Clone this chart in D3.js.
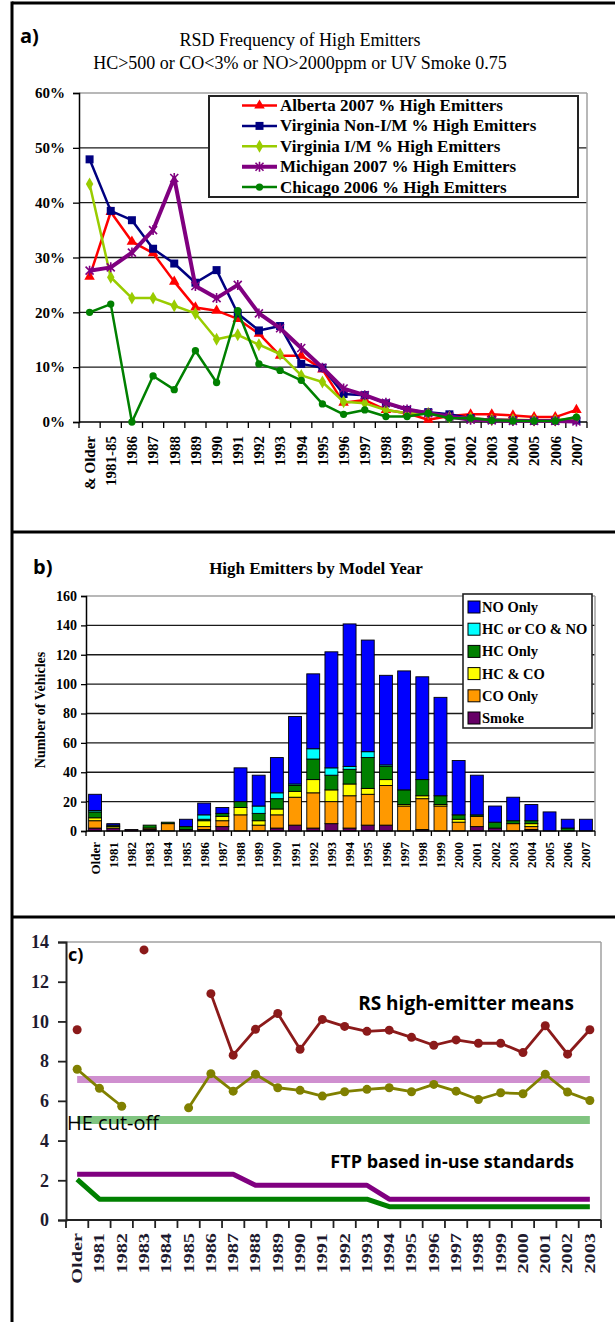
<!DOCTYPE html>
<html><head><meta charset="utf-8">
<script src="https://cdn.jsdelivr.net/npm/d3@7"></script>
<style>body{margin:0;background:#fff}svg{display:block}</style>
</head><body>
<svg id="chart" width="615" height="1322"></svg>
<script>
// ---------- Panel a data ----------
const catsA = ["& Older","1981-85","1986","1987","1988","1989","1990","1991","1992","1993","1994","1995","1996","1997","1998","1999","2000","2001","2002","2003","2004","2005","2006","2007"];
const albertaPct       = [26.5,38.3,32.9,30.8,25.6,20.9,20.3,18.8,16.1,12.1,12.1,9.6,3.5,4.0,2.2,1.6,0.4,1.1,1.4,1.4,1.2,0.9,0.9,2.2];
const virginiaNonIMPct = [47.9,38.5,36.8,31.6,28.9,25.4,27.7,19.8,16.7,17.5,10.6,9.9,5.1,4.9,3.4,2.2,1.8,1.4,0.7,0.4,0.3,0.2,0.2,0.3];
const virginiaIMPct    = [43.4,26.4,22.6,22.6,21.2,19.8,15.1,15.9,14.1,12.4,8.5,7.3,3.7,3.4,2.2,1.6,1.6,0.9,0.7,0.4,0.4,0.3,0.3,0.7];
const michiganPct      = [27.6,28.2,30.9,35.0,44.5,24.8,22.6,25.0,19.8,17.1,13.5,9.9,6.1,4.9,3.5,2.3,1.6,1.0,0.4,0.3,0.2,0.2,0.2,0.1];
const chicagoPct       = [20.0,21.5,0.0,8.4,5.9,13.0,7.2,20.3,10.6,9.4,7.6,3.3,1.4,2.2,1.0,1.0,1.6,0.7,0.7,0.3,0.2,0.2,0.2,0.9];
const seriesNamesA = ["Alberta 2007 % High Emitters","Virginia Non-I/M % High Emitters","Virginia I/M % High Emitters","Michigan 2007 % High Emitters","Chicago 2006 % High Emitters"];
const yTicksA = [0,10,20,30,40,50,60];

// ---------- Panel b data ----------
const catsB = ["Older","1981","1982","1983","1984","1985","1986","1987","1988","1989","1990","1991","1992","1993","1994","1995","1996","1997","1998","1999","2000","2001","2002","2003","2004","2005","2006","2007"];
const smoke  = [2,2,1,1,0,1,1,3,0,0, 2,4,2,5,2,4,4,0,1,0, 0,3,2,0,1,0,0,0];
const coOnly = [5,0,0,1,5,0,2,4,11,4, 9,19,24,15,22,21,27,17,21,17, 6,7,0,5,2,0,0,0];
const hcCo   = [2,1,0,0,0,0,4,3,5,3, 4,4,9,8,8,4,4,1,2,1, 2,0,0,0,2,0,0,0];
const hcOnly = [4,1,0,2,1,2,1,2,4,5, 7,4,14,10,10,21,9,10,11,6, 3,1,4,2,2,0,2,0];
const hcCoNo = [1,0,0,0,0,0,3,0,0,5, 4,1,7,5,2,4,1,0,0,0, 0,0,0,0,0,0,0,0];
const noOnly = [11,1,0,0,0,5,8,4,23,21, 24,46,51,79,97,76,61,81,70,67, 37,27,11,16,11,13,6,8];
const legendB = ["NO Only","HC or CO & NO","HC Only","HC & CO","CO Only","Smoke"];
const yTicksB = [0,20,40,60,80,100,120,140,160];

// ---------- Panel c data ----------
const catsC = ["Older","1981","1982","1983","1984","1985","1986","1987","1988","1989","1990","1991","1992","1993","1994","1995","1996","1997","1998","1999","2000","2001","2002","2003"];
const rsMeans  = [9.58,null,null,13.6,null,null,11.4,8.3,9.6,10.4, 8.6,10.1,9.75,9.5,9.56,9.2,8.8,9.07,8.9,8.9, 8.43,9.78,8.35,9.58];
const oliveMeans = [7.59,6.63,5.73,null,null,5.65,7.37,6.49,7.34,6.66, 6.53,6.24,6.46,6.58,6.66,6.46,6.83,6.49,6.07,6.41, 6.36,7.34,6.44,6.02];
const pinkLevel = [7.08,7.08,7.08,7.08,7.08,7.08,7.08,7.08,7.08,7.08,7.08,7.08,7.08,7.08,7.08,7.08,7.08,7.08,7.08,7.08,7.08,7.08,7.08,7.08];
const heCutoff  = [5.03,5.03,5.03,5.03,5.03,5.03,5.03,5.03,5.03,5.03,5.03,5.03,5.03,5.03,5.03,5.03,5.03,5.03,5.03,5.03,5.03,5.03,5.03,5.03];
const purpleStd = [2.3,2.3,2.3,2.3,2.3,2.3,2.3,2.3,1.75,1.75,1.75,1.75,1.75,1.75,1.05,1.05,1.05,1.05,1.05,1.05,1.05,1.05,1.05,1.05];
const greenStd  = [2.05,1.05,1.05,1.05,1.05,1.05,1.05,1.05,1.05,1.05,1.05,1.05,1.05,1.05,0.67,0.67,0.67,0.67,0.67,0.67,0.67,0.67,0.67,0.67];
const yTicksC = [0,2,4,6,8,10,12,14];

// ---------- drawing ----------
const SERIF = "'Liberation Serif','Times New Roman',serif";
const SANS = "'Open Sans','Liberation Sans',sans-serif";
const svg = d3.select("#chart");

// table borders
svg.append("line").attr("x1",12).attr("x2",12).attr("y1",1.5).attr("y2",1322).attr("stroke","#000").attr("stroke-width",3);
[3,532,917].forEach(y=>svg.append("line").attr("x1",12).attr("x2",615).attr("y1",y).attr("y2",y).attr("stroke","#000").attr("stroke-width",3));

function styleAxisText(sel, size, weight, fam, color){
  sel.selectAll("text").attr("font-family",fam).attr("font-size",size).attr("font-weight",weight).attr("fill",color||"#000");
}

// ===== Panel a =====
(function(){
  const g = svg.append("g");
  const L=79,R=587,T=93,B=422;
  const x = d3.scaleBand().domain(catsA).range([L,R]);
  const y = d3.scaleLinear().domain([0,60]).range([B,T]);
  const cx = i => x(catsA[i]) + x.bandwidth()/2;

  g.append("text").attr("x",20).attr("y",43).attr("font-family",SANS).attr("font-weight","bold").attr("font-size",20).text("a)");
  g.append("text").attr("x",300).attr("y",46).attr("text-anchor","middle").attr("font-family",SERIF).attr("font-size",18).text("RSD Frequency of High Emitters");
  g.append("text").attr("x",300).attr("y",69).attr("text-anchor","middle").attr("font-family",SERIF).attr("font-size",18).text("HC>500 or CO<3% or NO>2000ppm or UV Smoke 0.75");

  g.selectAll(".gridA").data(yTicksA.filter(d=>d>0)).join("line")
    .attr("x1",L).attr("x2",R).attr("y1",d=>y(d)).attr("y2",d=>y(d))
    .attr("stroke",d=>d===60?"#a0a0a0":"#1a1a1a").attr("stroke-width",d=>d===60?1.5:1.4);
  g.append("line").attr("x1",R).attr("x2",R).attr("y1",T).attr("y2",B).attr("stroke","#a0a0a0").attr("stroke-width",1.5);

  const ya = g.append("g").attr("transform",`translate(${L},0)`)
    .call(d3.axisLeft(y).tickValues(yTicksA).tickFormat(d=>d+"%").tickSize(6).tickPadding(8));
  ya.select(".domain").attr("stroke","#000").attr("stroke-width",1.5);
  ya.selectAll(".tick line").attr("stroke","#000").attr("stroke-width",1.3);
  styleAxisText(ya,15,"bold",SERIF);

  g.append("line").attr("x1",L).attr("x2",R).attr("y1",B).attr("y2",B).attr("stroke","#000").attr("stroke-width",1.5);
  const edges = catsA.map(c=>x(c)).concat([x(catsA[catsA.length-1])+x.bandwidth()]);
  g.selectAll(".etA").data(edges).join("line").attr("x1",d=>d).attr("x2",d=>d).attr("y1",B).attr("y2",B+6).attr("stroke","#000").attr("stroke-width",1.3);
  const xa = g.append("g").attr("transform",`translate(0,${B})`).call(d3.axisBottom(x).tickSize(0));
  xa.select(".domain").remove();
  xa.selectAll("text").attr("transform","rotate(-90)").attr("text-anchor","end").attr("x",-14).attr("y",0).attr("dy","0.35em");
  styleAxisText(xa,15,"bold",SERIF);

  const series = [
    {v:albertaPct, c:"#ff0000", w:2.5, m:"tri"},
    {v:virginiaNonIMPct, c:"#000080", w:2.5, m:"sq"},
    {v:virginiaIMPct, c:"#99cc00", w:2.5, m:"dia"},
    {v:michiganPct, c:"#800080", w:4, m:"x"},
    {v:chicagoPct, c:"#008000", w:2.5, m:"cir"}
  ];
  const line = d3.line().x((d,i)=>cx(i)).y(d=>y(d));
  function marker(sel, m, c){
    if(m==="x"){
      sel.append("path").attr("d","M-4,-4L4,4M-4,4L4,-4M0,-5L0,5").attr("stroke",c).attr("stroke-width",1.6).attr("fill","none");
    } else {
      const t = {tri:d3.symbolTriangle, sq:d3.symbolSquare, dia:d3.symbolDiamond, cir:d3.symbolCircle}[m];
      const s = {tri:48, sq:64, dia:48, cir:42}[m];
      sel.append("path").attr("d",d3.symbol(t,s)()).attr("fill",c);
    }
  }
  series.forEach(s=>{
    g.append("path").attr("d",line(s.v)).attr("fill","none").attr("stroke",s.c).attr("stroke-width",s.w).attr("stroke-linejoin","round");
    s.v.forEach((d,i)=>{
      const mg = g.append("g").attr("transform",`translate(${cx(i)},${y(d)})`);
      marker(mg,s.m,s.c);
    });
  });

  // legend
  const lg = g.append("g");
  lg.append("rect").attr("x",209).attr("y",96).attr("width",369).attr("height",101).attr("fill","#fff").attr("stroke","#222").attr("stroke-width",2);
  seriesNamesA.forEach((n,i)=>{
    const yy = 105.5 + i*20.4;
    const s = series[i];
    lg.append("line").attr("x1",242).attr("x2",277).attr("y1",yy).attr("y2",yy).attr("stroke",s.c).attr("stroke-width",s.w);
    const mg = lg.append("g").attr("transform",`translate(259.5,${yy})`);
    marker(mg,s.m,s.c);
    lg.append("text").attr("x",280).attr("y",yy+5.5).attr("font-family",SERIF).attr("font-weight","bold").attr("font-size",17).text(n);
  });
})();

// ===== Panel b =====
(function(){
  const g = svg.append("g");
  const L=86,R=595,T=596,B=831;
  const x = d3.scaleBand().domain(catsB).range([L,R]).paddingInner(0.29).paddingOuter(0.145);
  const xe = d3.scaleBand().domain(catsB).range([L,R]);
  const y = d3.scaleLinear().domain([0,160]).range([B,T]);

  g.append("text").attr("x",33).attr("y",574).attr("font-family",SANS).attr("font-weight","bold").attr("font-size",20).text("b)");
  g.append("text").attr("x",316).attr("y",574).attr("text-anchor","middle").attr("font-family",SERIF).attr("font-weight","bold").attr("font-size",17).text("High Emitters by Model Year");
  g.append("text").attr("transform","translate(45,710) rotate(-90)").attr("text-anchor","middle").attr("font-family",SERIF).attr("font-weight","bold").attr("font-size",14).text("Number of Vehicles");

  g.selectAll(".gridB").data(yTicksB.filter(d=>d>0)).join("line")
    .attr("x1",L).attr("x2",R).attr("y1",d=>y(d)).attr("y2",d=>y(d))
    .attr("stroke",d=>d===160?"#a0a0a0":"#1a1a1a").attr("stroke-width",d=>d===160?1.5:1.4);
  g.append("line").attr("x1",R).attr("x2",R).attr("y1",T).attr("y2",B).attr("stroke","#a0a0a0").attr("stroke-width",1.5);

  const ya = g.append("g").attr("transform",`translate(${L},0)`)
    .call(d3.axisLeft(y).tickValues(yTicksB).tickSize(5).tickPadding(4));
  ya.select(".domain").attr("stroke","#000").attr("stroke-width",1.5);
  ya.selectAll(".tick line").attr("stroke","#000").attr("stroke-width",1.3);
  styleAxisText(ya,14,"bold",SERIF);

  const keys = ["smoke","coOnly","hcCo","hcOnly","hcCoNo","noOnly"];
  const colors = {smoke:"#660066",coOnly:"#ff9900",hcCo:"#ffff00",hcOnly:"#008000",hcCoNo:"#00ffff",noOnly:"#0000ff"};
  const rows = catsB.map((c,i)=>({cat:c,smoke:smoke[i],coOnly:coOnly[i],hcCo:hcCo[i],hcOnly:hcOnly[i],hcCoNo:hcCoNo[i],noOnly:noOnly[i]}));
  const stacked = d3.stack().keys(keys)(rows);
  stacked.forEach(layer=>{
    g.append("g").selectAll("rect").data(layer.filter(d=>d[1]-d[0]>0)).join("rect")
      .attr("x",d=>x(d.data.cat)).attr("width",x.bandwidth())
      .attr("y",d=>y(d[1])).attr("height",d=>y(d[0])-y(d[1]))
      .attr("fill",colors[layer.key]).attr("stroke","#000").attr("stroke-width",0.9);
  });

  g.append("line").attr("x1",L).attr("x2",R).attr("y1",B).attr("y2",B).attr("stroke","#000").attr("stroke-width",1.5);
  const edges = catsB.map(c=>xe(c)).concat([xe(catsB[catsB.length-1])+xe.bandwidth()]);
  g.selectAll(".etB").data(edges).join("line").attr("x1",d=>d).attr("x2",d=>d).attr("y1",B).attr("y2",B+5).attr("stroke","#000").attr("stroke-width",1.3);
  const xa = g.append("g").attr("transform",`translate(0,${B})`).call(d3.axisBottom(xe).tickSize(0));
  xa.select(".domain").remove();
  xa.selectAll("text").attr("transform","rotate(-90)").attr("text-anchor","end").attr("x",-11).attr("y",0).attr("dy","0.35em");
  styleAxisText(xa,13,"bold",SERIF);

  const lg = g.append("g");
  lg.append("rect").attr("x",463).attr("y",594).attr("width",129).attr("height",134).attr("fill","#fff").attr("stroke","#222").attr("stroke-width",1.6);
  legendB.forEach((n,i)=>{
    const yy = 607 + i*22.2;
    const k = keys[keys.length-1-i];
    lg.append("rect").attr("x",468).attr("y",yy-6).attr("width",12).attr("height",12).attr("fill",colors[k]).attr("stroke","#000").attr("stroke-width",1);
    lg.append("text").attr("x",482).attr("y",yy+5).attr("font-family",SERIF).attr("font-weight","bold").attr("font-size",14.5).text(n);
  });
})();

// ===== Panel c =====
(function(){
  const g = svg.append("g");
  const L=66,R=601,T=942,B=1220;
  const x = d3.scaleBand().domain(catsC).range([L,R]);
  const y = d3.scaleLinear().domain([0,14]).range([B,T]);
  const cx = i => x(catsC[i]) + x.bandwidth()/2;

  g.append("line").attr("x1",L).attr("x2",R).attr("y1",T).attr("y2",T).attr("stroke","#a0a0a0").attr("stroke-width",1.5);
  g.append("line").attr("x1",R).attr("x2",R).attr("y1",T).attr("y2",B).attr("stroke","#a0a0a0").attr("stroke-width",1.5);

  const ya = g.append("g").attr("transform",`translate(${L},0)`)
    .call(d3.axisLeft(y).tickValues(yTicksC).tickSize(8).tickPadding(9));
  ya.select(".domain").attr("stroke","#222").attr("stroke-width",2);
  ya.selectAll(".tick line").attr("stroke","#222").attr("stroke-width",1.8);
  styleAxisText(ya,18,"bold",SERIF,"#1e1a2e");

  g.append("line").attr("x1",L).attr("x2",R).attr("y1",B).attr("y2",B).attr("stroke","#222").attr("stroke-width",2);
  const edges = catsC.map(c=>x(c)).concat([x(catsC[catsC.length-1])+x.bandwidth()]);
  g.selectAll(".etC").data(edges).join("line").attr("x1",d=>d).attr("x2",d=>d).attr("y1",B).attr("y2",B+8).attr("stroke","#222").attr("stroke-width",1.8);
  const xa = g.append("g").attr("transform",`translate(0,${B})`).call(d3.axisBottom(x).tickSize(0));
  xa.select(".domain").remove();
  xa.selectAll("text").attr("transform","rotate(-90) scale(1.45,1)").attr("text-anchor","end").attr("x",-13/1.45).attr("y",0).attr("dy","0.35em");
  styleAxisText(xa,14,"bold",SERIF,"#1e1a2e");

  const line = d3.line().defined(d=>d!=null).x((d,i)=>cx(i)).y(d=>y(d));
  const draw = (vals,c,w)=>g.append("path").attr("d",line(vals)).attr("fill","none").attr("stroke",c).attr("stroke-width",w).attr("stroke-linejoin","round");

  draw(pinkLevel,"#cf8fcf",7);
  draw(heCutoff,"#80c480",8);
  draw(greenStd,"#008000",5);
  draw(purpleStd,"#800080",5);

  draw(oliveMeans,"#808000",2.8);
  oliveMeans.forEach((d,i)=>{ if(d!=null) g.append("circle").attr("cx",cx(i)).attr("cy",y(d)).attr("r",4.5).attr("fill","#808000"); });
  draw(rsMeans,"#8b1a1a",2.8);
  rsMeans.forEach((d,i)=>{ if(d!=null) g.append("circle").attr("cx",cx(i)).attr("cy",y(d)).attr("r",4.5).attr("fill","#8b1a1a"); });

  g.append("text").attr("x",67).attr("y",1130).attr("font-family",SANS).attr("font-size",20).text("HE cut-off");
  g.append("text").attr("x",574).attr("y",1010).attr("text-anchor","end").attr("font-family",SANS).attr("font-weight","bold").attr("font-size",19).text("RS high-emitter means");
  g.append("text").attr("x",574).attr("y",1168).attr("text-anchor","end").attr("font-family",SANS).attr("font-weight","bold").attr("font-size",18).text("FTP based in-use standards");
  g.append("text").attr("x",68).attr("y",961).attr("font-family",SANS).attr("font-weight","bold").attr("font-size",18).text("c)");
})();
</script>
</body></html>
